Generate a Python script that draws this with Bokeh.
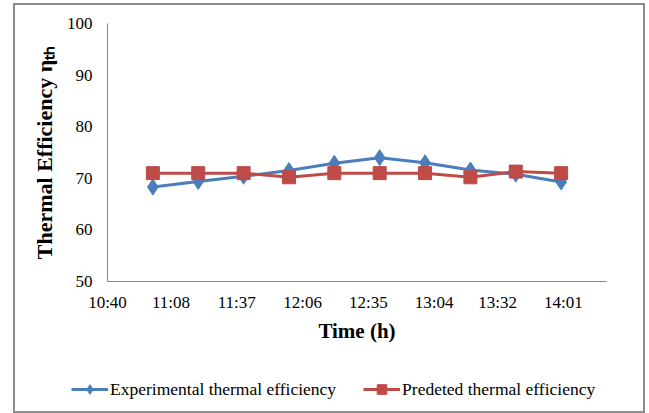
from bokeh.plotting import figure
from bokeh.models import Legend, LegendItem, FixedTicker, Range1d, Spacer
from bokeh.layouts import row, column
from bokeh.embed import file_html
from bokeh.resources import INLINE

# ---- data ----
times = ["11:00", "11:20", "11:40", "12:00", "12:20", "12:40", "13:00", "13:20", "13:40", "14:00"]
experimental = [68.3, 69.4, 70.4, 71.5, 72.9, 74.0, 73.0, 71.6, 70.8, 69.3]
predicted = [71.0, 71.0, 71.0, 70.2, 71.0, 71.0, 71.0, 70.2, 71.3, 71.0]
x_tick_labels = ["10:40", "11:08", "11:37", "12:06", "12:35", "13:04", "13:32", "14:01"]
y_ticks = [50, 60, 70, 80, 90, 100]
x_start, x_end = "10:40", "14:20"
y_start, y_end = 50, 100
series_names = ["Experimental thermal efficiency", "Predeted thermal efficiency"]


def to_min(s):
    h, m = s.split(":")
    return int(h) * 60 + int(m)


xs = [to_min(t) for t in times]
x_ticks = [to_min(t) for t in x_tick_labels]

BLUE = "#4a7ebb"
RED = "#be4b48"
AXIS = "#868686"
FRAME = "2px solid #8c8c8c"
SERIF = "Liberation Serif"

p = figure(width=632, height=370, output_backend="svg", toolbar_location=None,
           x_range=Range1d(to_min(x_start), to_min(x_end)),
           y_range=Range1d(y_start, y_end),
           min_border_left=92, min_border_right=41, min_border_top=18, min_border_bottom=94)
p.styles = {"border-left": FRAME, "border-right": FRAME, "border-top": FRAME}
p.outline_line_color = None
p.xgrid.visible = False
p.ygrid.visible = False
p.background_fill_color = "white"
p.border_fill_color = "white"

for ax in (p.xaxis[0], p.yaxis[0]):
    ax.axis_line_color = AXIS
    ax.axis_line_width = 1
    ax.major_tick_line_color = None
    ax.minor_tick_line_color = None
    ax.major_tick_out = 0
    ax.major_tick_in = 0
    ax.minor_tick_out = 0
    ax.minor_tick_in = 0
    ax.major_label_text_font = SERIF
    ax.major_label_text_font_size = "17px"
    ax.major_label_text_color = "black"
    ax.axis_label_text_font = SERIF
    ax.axis_label_text_font_style = "bold"
    ax.axis_label_text_color = "black"

p.xaxis.ticker = FixedTicker(ticks=x_ticks)
p.xaxis.major_label_overrides = {t: l for t, l in zip(x_ticks, x_tick_labels)}
p.xaxis.major_label_standoff = 11
p.xaxis.axis_label = "Time (h)"
p.xaxis.axis_label_text_font_size = "21px"
p.xaxis.axis_label_standoff = 4

p.yaxis.ticker = FixedTicker(ticks=y_ticks)
p.yaxis.major_label_standoff = 15
p.yaxis.axis_label = "Thermal Efficiency η\u209c\u2095"
p.yaxis.axis_label_text_font_size = "22px"
p.yaxis.axis_label_standoff = 7

p.line(xs, experimental, line_color=BLUE, line_width=3)
p.scatter(xs, experimental, marker="diamond", size=16, fill_color=BLUE, line_color=BLUE)
p.line(xs, predicted, line_color=RED, line_width=3)
p.scatter(xs, predicted, marker="square", size=13, fill_color=RED, line_color=RED)

# legend strip below the chart (series drawn out of view, only the legend shows)
lf = figure(width=632, height=40, output_backend="svg", toolbar_location=None,
            x_range=Range1d(0, 1), y_range=Range1d(0, 1),
            x_axis_location=None, y_axis_location=None,
            min_border_left=0, min_border_right=0, min_border_top=0, min_border_bottom=0)
lf.frame_align = False
lf.styles = {"border-left": FRAME, "border-right": FRAME, "border-bottom": FRAME}
lf.outline_line_color = None
lf.xgrid.visible = False
lf.ygrid.visible = False
lf.border_fill_color = "white"
lr1 = lf.line(xs, experimental, line_color=BLUE, line_width=3)
ls1 = lf.scatter(xs, experimental, marker="diamond", size=16, fill_color=BLUE, line_color=BLUE)
lr2 = lf.line(xs, predicted, line_color=RED, line_width=3)
ls2 = lf.scatter(xs, predicted, marker="square", size=13, fill_color=RED, line_color=RED)

legend = Legend(items=[LegendItem(label=series_names[0], renderers=[lr1, ls1]),
                       LegendItem(label=series_names[1], renderers=[lr2, ls2])],
                location=(56, 12), orientation="horizontal",
                glyph_width=37, glyph_height=24, label_standoff=2, spacing=27,
                padding=0, margin=0, border_line_color=None, background_fill_alpha=0,
                label_text_font=SERIF, label_text_font_size="17.5px", label_text_color="black")
lf.add_layout(legend)

layout = row(Spacer(width=13, height=1), column(Spacer(width=1, height=3), p, lf, spacing=0), spacing=0)

open("out.html", "w").write(file_html(layout, INLINE))
